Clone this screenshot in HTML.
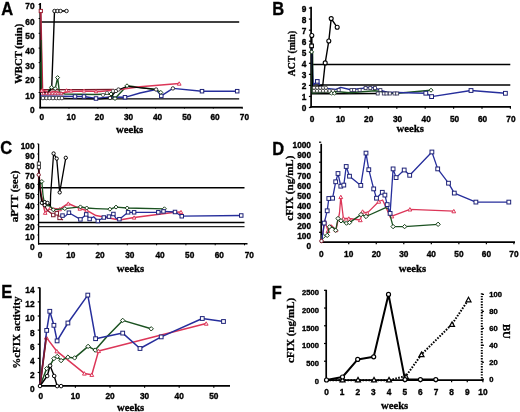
<!DOCTYPE html>
<html><head><meta charset="utf-8"><style>
html,body{margin:0;padding:0;background:#fff;}
body{width:520px;height:412px;overflow:hidden;}
svg{display:block;will-change:transform;}
.t{font-family:"Liberation Sans", sans-serif;font-weight:bold;fill:#000;stroke:#000;stroke-width:0.35px;}
.L{font-family:"Liberation Sans", sans-serif;font-weight:bold;fill:#000;stroke:#000;stroke-width:0.3px;}
.s{font-family:"Liberation Serif", serif;font-weight:bold;fill:#000;stroke:#000;stroke-width:0.3px;}
</style></head><body>
<svg width="520" height="412" viewBox="0 0 520 412">
<text transform="translate(1.2,14.6) scale(1,1.08)" class="L" style="font-size:16.5px">A</text>
<line x1="40.20" y1="3.00" x2="40.20" y2="108.40" stroke="#000" stroke-width="1.7" />
<line x1="39.40" y1="107.60" x2="242.80" y2="107.60" stroke="#000" stroke-width="1.7" />
<text x="34.6" y="9.3" text-anchor="end" class="t" style="font-size:8.3px">70</text>
<text x="34.6" y="24.5" text-anchor="end" class="t" style="font-size:8.3px">60</text>
<text x="34.6" y="39.3" text-anchor="end" class="t" style="font-size:8.3px">50</text>
<text x="34.6" y="54.1" text-anchor="end" class="t" style="font-size:8.3px">40</text>
<text x="34.6" y="68.6" text-anchor="end" class="t" style="font-size:8.3px">30</text>
<text x="34.6" y="83.4" text-anchor="end" class="t" style="font-size:8.3px">20</text>
<text x="34.6" y="98.5" text-anchor="end" class="t" style="font-size:8.3px">10</text>
<text x="34.6" y="113.1" text-anchor="end" class="t" style="font-size:8.3px">0</text>
<line x1="40.20" y1="4.50" x2="38.60" y2="4.50" stroke="#000" stroke-width="1.0" />
<line x1="40.20" y1="18.50" x2="38.60" y2="18.50" stroke="#000" stroke-width="1.0" />
<line x1="40.20" y1="33.30" x2="38.60" y2="33.30" stroke="#000" stroke-width="1.0" />
<line x1="40.20" y1="48.10" x2="38.60" y2="48.10" stroke="#000" stroke-width="1.0" />
<line x1="40.20" y1="62.60" x2="38.60" y2="62.60" stroke="#000" stroke-width="1.0" />
<line x1="40.20" y1="77.40" x2="38.60" y2="77.40" stroke="#000" stroke-width="1.0" />
<line x1="40.20" y1="92.50" x2="38.60" y2="92.50" stroke="#000" stroke-width="1.0" />
<text x="41.9" y="120.3" text-anchor="middle" class="t" style="font-size:8.3px">0</text>
<text x="71.2" y="120.3" text-anchor="middle" class="t" style="font-size:8.3px">10</text>
<text x="99.4" y="120.3" text-anchor="middle" class="t" style="font-size:8.3px">20</text>
<text x="128.5" y="120.3" text-anchor="middle" class="t" style="font-size:8.3px">30</text>
<text x="157.5" y="120.3" text-anchor="middle" class="t" style="font-size:8.3px">40</text>
<text x="186.8" y="120.3" text-anchor="middle" class="t" style="font-size:8.3px">50</text>
<text x="215.1" y="120.3" text-anchor="middle" class="t" style="font-size:8.3px">60</text>
<text x="244.4" y="120.3" text-anchor="middle" class="t" style="font-size:8.3px">70</text>
<line x1="68.97" y1="107.60" x2="68.97" y2="108.60" stroke="#000" stroke-width="1.0" />
<line x1="97.84" y1="107.60" x2="97.84" y2="108.60" stroke="#000" stroke-width="1.0" />
<line x1="126.71" y1="107.60" x2="126.71" y2="108.60" stroke="#000" stroke-width="1.0" />
<line x1="155.58" y1="107.60" x2="155.58" y2="108.60" stroke="#000" stroke-width="1.0" />
<line x1="184.45" y1="107.60" x2="184.45" y2="108.60" stroke="#000" stroke-width="1.0" />
<line x1="213.32" y1="107.60" x2="213.32" y2="108.60" stroke="#000" stroke-width="1.0" />
<line x1="242.19" y1="107.60" x2="242.19" y2="108.60" stroke="#000" stroke-width="1.0" />
<text x="129.6" y="133.0" text-anchor="middle" class="s" style="font-size:10.7px">weeks</text>
<text transform="translate(21.9,53.8) rotate(-90)" text-anchor="middle" class="s" style="font-size:10.7px">WBCT (min)</text>
<line x1="40.20" y1="22.00" x2="239.20" y2="22.00" stroke="#000" stroke-width="1.6" />
<line x1="40.20" y1="98.90" x2="239.20" y2="98.90" stroke="#000" stroke-width="1.35" />
<text transform="translate(272.2,14.7) scale(1,1.08)" class="L" style="font-size:16.5px">B</text>
<line x1="311.10" y1="6.80" x2="311.10" y2="107.60" stroke="#000" stroke-width="1.7" />
<line x1="310.30" y1="106.80" x2="511.00" y2="106.80" stroke="#000" stroke-width="1.7" />
<text x="306.3" y="111.0" text-anchor="end" class="t" style="font-size:8.3px">0</text>
<text x="306.3" y="100.0" text-anchor="end" class="t" style="font-size:8.3px">1</text>
<text x="306.3" y="88.9" text-anchor="end" class="t" style="font-size:8.3px">2</text>
<text x="306.3" y="77.9" text-anchor="end" class="t" style="font-size:8.3px">3</text>
<text x="306.3" y="66.8" text-anchor="end" class="t" style="font-size:8.3px">4</text>
<text x="306.3" y="55.8" text-anchor="end" class="t" style="font-size:8.3px">5</text>
<text x="306.3" y="44.7" text-anchor="end" class="t" style="font-size:8.3px">6</text>
<text x="306.3" y="33.7" text-anchor="end" class="t" style="font-size:8.3px">7</text>
<text x="306.3" y="22.6" text-anchor="end" class="t" style="font-size:8.3px">8</text>
<text x="306.3" y="11.6" text-anchor="end" class="t" style="font-size:8.3px">9</text>
<line x1="311.10" y1="107.50" x2="308.90" y2="107.50" stroke="#000" stroke-width="1.2" />
<line x1="311.10" y1="96.45" x2="308.90" y2="96.45" stroke="#000" stroke-width="1.2" />
<line x1="311.10" y1="85.40" x2="308.90" y2="85.40" stroke="#000" stroke-width="1.2" />
<line x1="311.10" y1="74.35" x2="308.90" y2="74.35" stroke="#000" stroke-width="1.2" />
<line x1="311.10" y1="63.30" x2="308.90" y2="63.30" stroke="#000" stroke-width="1.2" />
<line x1="311.10" y1="52.25" x2="308.90" y2="52.25" stroke="#000" stroke-width="1.2" />
<line x1="311.10" y1="41.20" x2="308.90" y2="41.20" stroke="#000" stroke-width="1.2" />
<line x1="311.10" y1="30.15" x2="308.90" y2="30.15" stroke="#000" stroke-width="1.2" />
<line x1="311.10" y1="19.10" x2="308.90" y2="19.10" stroke="#000" stroke-width="1.2" />
<line x1="311.10" y1="8.05" x2="308.90" y2="8.05" stroke="#000" stroke-width="1.2" />
<text x="312.1" y="121.9" text-anchor="middle" class="t" style="font-size:8.3px">0</text>
<text x="340.5" y="121.9" text-anchor="middle" class="t" style="font-size:8.3px">10</text>
<text x="368.7" y="121.9" text-anchor="middle" class="t" style="font-size:8.3px">20</text>
<text x="397.6" y="121.9" text-anchor="middle" class="t" style="font-size:8.3px">30</text>
<text x="426.2" y="121.9" text-anchor="middle" class="t" style="font-size:8.3px">40</text>
<text x="454.5" y="121.9" text-anchor="middle" class="t" style="font-size:8.3px">50</text>
<text x="482.6" y="121.9" text-anchor="middle" class="t" style="font-size:8.3px">60</text>
<text x="510.9" y="121.9" text-anchor="middle" class="t" style="font-size:8.3px">70</text>
<line x1="340.00" y1="106.80" x2="340.00" y2="108.80" stroke="#000" stroke-width="1.2" />
<line x1="368.40" y1="106.80" x2="368.40" y2="108.80" stroke="#000" stroke-width="1.2" />
<line x1="396.80" y1="106.80" x2="396.80" y2="108.80" stroke="#000" stroke-width="1.2" />
<line x1="425.20" y1="106.80" x2="425.20" y2="108.80" stroke="#000" stroke-width="1.2" />
<line x1="453.60" y1="106.80" x2="453.60" y2="108.80" stroke="#000" stroke-width="1.2" />
<line x1="482.00" y1="106.80" x2="482.00" y2="108.80" stroke="#000" stroke-width="1.2" />
<line x1="510.40" y1="106.80" x2="510.40" y2="108.80" stroke="#000" stroke-width="1.2" />
<text x="410.2" y="132.3" text-anchor="middle" class="s" style="font-size:10.7px">weeks</text>
<text transform="translate(294.9,53.5) rotate(-90)" text-anchor="middle" class="s" style="font-size:9.7px">ACT (min)</text>
<line x1="311.10" y1="64.50" x2="510.30" y2="64.50" stroke="#000" stroke-width="1.35" />
<line x1="311.10" y1="85.00" x2="510.30" y2="85.00" stroke="#000" stroke-width="1.45" />
<text transform="translate(0.2,154.2) scale(1,1.08)" class="L" style="font-size:16.5px">C</text>
<line x1="38.60" y1="143.80" x2="38.60" y2="244.60" stroke="#000" stroke-width="1.3" />
<line x1="38.00" y1="243.80" x2="247.50" y2="243.80" stroke="#000" stroke-width="1.5" />
<text x="34.5" y="249.8" text-anchor="end" class="t" style="font-size:8.3px">0</text>
<text x="34.5" y="239.7" text-anchor="end" class="t" style="font-size:8.3px">10</text>
<text x="34.5" y="229.6" text-anchor="end" class="t" style="font-size:8.3px">20</text>
<text x="34.5" y="219.5" text-anchor="end" class="t" style="font-size:8.3px">30</text>
<text x="34.5" y="209.4" text-anchor="end" class="t" style="font-size:8.3px">40</text>
<text x="34.5" y="199.2" text-anchor="end" class="t" style="font-size:8.3px">50</text>
<text x="34.5" y="189.1" text-anchor="end" class="t" style="font-size:8.3px">60</text>
<text x="34.5" y="179.0" text-anchor="end" class="t" style="font-size:8.3px">70</text>
<text x="34.5" y="168.9" text-anchor="end" class="t" style="font-size:8.3px">80</text>
<text x="34.5" y="158.8" text-anchor="end" class="t" style="font-size:8.3px">90</text>
<text x="34.5" y="148.6" text-anchor="end" class="t" style="font-size:8.3px">100</text>
<line x1="38.60" y1="234.98" x2="37.30" y2="234.98" stroke="#000" stroke-width="0.9" />
<line x1="38.60" y1="224.86" x2="37.30" y2="224.86" stroke="#000" stroke-width="0.9" />
<line x1="38.60" y1="214.74" x2="37.30" y2="214.74" stroke="#000" stroke-width="0.9" />
<line x1="38.60" y1="204.62" x2="37.30" y2="204.62" stroke="#000" stroke-width="0.9" />
<line x1="38.60" y1="194.50" x2="37.30" y2="194.50" stroke="#000" stroke-width="0.9" />
<line x1="38.60" y1="184.38" x2="37.30" y2="184.38" stroke="#000" stroke-width="0.9" />
<line x1="38.60" y1="174.26" x2="37.30" y2="174.26" stroke="#000" stroke-width="0.9" />
<line x1="38.60" y1="164.14" x2="37.30" y2="164.14" stroke="#000" stroke-width="0.9" />
<line x1="38.60" y1="154.02" x2="37.30" y2="154.02" stroke="#000" stroke-width="0.9" />
<line x1="38.60" y1="143.90" x2="37.30" y2="143.90" stroke="#000" stroke-width="0.9" />
<text x="40.0" y="257.8" text-anchor="middle" class="t" style="font-size:8.3px">0</text>
<text x="70.8" y="257.8" text-anchor="middle" class="t" style="font-size:8.3px">10</text>
<text x="100.0" y="257.8" text-anchor="middle" class="t" style="font-size:8.3px">20</text>
<text x="129.8" y="257.8" text-anchor="middle" class="t" style="font-size:8.3px">30</text>
<text x="160.0" y="257.8" text-anchor="middle" class="t" style="font-size:8.3px">40</text>
<text x="189.7" y="257.8" text-anchor="middle" class="t" style="font-size:8.3px">50</text>
<text x="219.3" y="257.8" text-anchor="middle" class="t" style="font-size:8.3px">60</text>
<text x="249.3" y="257.8" text-anchor="middle" class="t" style="font-size:8.3px">70</text>
<line x1="68.70" y1="243.80" x2="68.70" y2="245.30" stroke="#000" stroke-width="1.0" />
<line x1="98.00" y1="243.80" x2="98.00" y2="245.30" stroke="#000" stroke-width="1.0" />
<line x1="127.30" y1="243.80" x2="127.30" y2="245.30" stroke="#000" stroke-width="1.0" />
<line x1="156.60" y1="243.80" x2="156.60" y2="245.30" stroke="#000" stroke-width="1.0" />
<line x1="185.90" y1="243.80" x2="185.90" y2="245.30" stroke="#000" stroke-width="1.0" />
<line x1="215.20" y1="243.80" x2="215.20" y2="245.30" stroke="#000" stroke-width="1.0" />
<line x1="244.50" y1="243.80" x2="244.50" y2="245.30" stroke="#000" stroke-width="1.0" />
<text x="130.4" y="272.2" text-anchor="middle" class="s" style="font-size:10.7px">weeks</text>
<text transform="translate(18.0,196.4) rotate(-90)" text-anchor="middle" class="s" style="font-size:11.2px">aPTT (sec)</text>
<line x1="38.60" y1="187.70" x2="244.50" y2="187.70" stroke="#000" stroke-width="1.4" />
<line x1="38.60" y1="222.50" x2="244.50" y2="222.50" stroke="#000" stroke-width="1.3" />
<line x1="38.60" y1="226.60" x2="244.50" y2="226.60" stroke="#222" stroke-width="1.2" />
<text transform="translate(272.2,154.6) scale(1,1.08)" class="L" style="font-size:16.5px">D</text>
<line x1="321.20" y1="143.80" x2="321.20" y2="243.00" stroke="#000" stroke-width="1.7" />
<line x1="320.40" y1="242.20" x2="515.00" y2="242.20" stroke="#000" stroke-width="1.7" />
<text x="311.0" y="248.5" text-anchor="end" class="t" style="font-size:8.3px">0</text>
<text x="311.0" y="238.5" text-anchor="end" class="t" style="font-size:8.3px">100</text>
<text x="311.0" y="228.5" text-anchor="end" class="t" style="font-size:8.3px">200</text>
<text x="311.0" y="218.5" text-anchor="end" class="t" style="font-size:8.3px">300</text>
<text x="311.0" y="208.5" text-anchor="end" class="t" style="font-size:8.3px">400</text>
<text x="311.0" y="198.5" text-anchor="end" class="t" style="font-size:8.3px">500</text>
<text x="311.0" y="188.5" text-anchor="end" class="t" style="font-size:8.3px">600</text>
<text x="311.0" y="178.5" text-anchor="end" class="t" style="font-size:8.3px">700</text>
<text x="311.0" y="168.5" text-anchor="end" class="t" style="font-size:8.3px">800</text>
<text x="311.0" y="158.4" text-anchor="end" class="t" style="font-size:8.3px">900</text>
<text x="311.0" y="148.4" text-anchor="end" class="t" style="font-size:8.3px">1000</text>
<line x1="321.20" y1="232.29" x2="319.00" y2="232.29" stroke="#000" stroke-width="1.2" />
<line x1="321.20" y1="222.28" x2="319.00" y2="222.28" stroke="#000" stroke-width="1.2" />
<line x1="321.20" y1="212.27" x2="319.00" y2="212.27" stroke="#000" stroke-width="1.2" />
<line x1="321.20" y1="202.26" x2="319.00" y2="202.26" stroke="#000" stroke-width="1.2" />
<line x1="321.20" y1="192.25" x2="319.00" y2="192.25" stroke="#000" stroke-width="1.2" />
<line x1="321.20" y1="182.24" x2="319.00" y2="182.24" stroke="#000" stroke-width="1.2" />
<line x1="321.20" y1="172.23" x2="319.00" y2="172.23" stroke="#000" stroke-width="1.2" />
<line x1="321.20" y1="162.22" x2="319.00" y2="162.22" stroke="#000" stroke-width="1.2" />
<line x1="321.20" y1="152.21" x2="319.00" y2="152.21" stroke="#000" stroke-width="1.2" />
<line x1="321.20" y1="142.20" x2="319.00" y2="142.20" stroke="#000" stroke-width="1.2" />
<text x="321.2" y="256.9" text-anchor="middle" class="t" style="font-size:8.3px">0</text>
<text x="348.7" y="256.9" text-anchor="middle" class="t" style="font-size:8.3px">10</text>
<text x="376.3" y="256.9" text-anchor="middle" class="t" style="font-size:8.3px">20</text>
<text x="403.8" y="256.9" text-anchor="middle" class="t" style="font-size:8.3px">30</text>
<text x="431.3" y="256.9" text-anchor="middle" class="t" style="font-size:8.3px">40</text>
<text x="458.9" y="256.9" text-anchor="middle" class="t" style="font-size:8.3px">50</text>
<text x="486.4" y="256.9" text-anchor="middle" class="t" style="font-size:8.3px">60</text>
<text x="513.9" y="256.9" text-anchor="middle" class="t" style="font-size:8.3px">70</text>
<line x1="348.73" y1="242.20" x2="348.73" y2="244.20" stroke="#000" stroke-width="1.2" />
<line x1="376.26" y1="242.20" x2="376.26" y2="244.20" stroke="#000" stroke-width="1.2" />
<line x1="403.79" y1="242.20" x2="403.79" y2="244.20" stroke="#000" stroke-width="1.2" />
<line x1="431.32" y1="242.20" x2="431.32" y2="244.20" stroke="#000" stroke-width="1.2" />
<line x1="458.85" y1="242.20" x2="458.85" y2="244.20" stroke="#000" stroke-width="1.2" />
<line x1="486.38" y1="242.20" x2="486.38" y2="244.20" stroke="#000" stroke-width="1.2" />
<line x1="513.91" y1="242.20" x2="513.91" y2="244.20" stroke="#000" stroke-width="1.2" />
<text x="412.4" y="272.4" text-anchor="middle" class="s" style="font-size:10.7px">weeks</text>
<text transform="translate(292.9,188.2) rotate(-90)" text-anchor="middle" class="s" style="font-size:11px">cFIX (ng/mL)</text>
<text transform="translate(1.2,298.3) scale(1,1.08)" class="L" style="font-size:16.5px">E</text>
<line x1="39.90" y1="287.60" x2="39.90" y2="386.60" stroke="#000" stroke-width="1.7" />
<line x1="39.10" y1="385.80" x2="230.00" y2="385.80" stroke="#000" stroke-width="1.7" />
<text x="34.5" y="391.9" text-anchor="end" class="t" style="font-size:8.3px">0</text>
<text x="34.5" y="377.8" text-anchor="end" class="t" style="font-size:8.3px">2</text>
<text x="34.5" y="363.7" text-anchor="end" class="t" style="font-size:8.3px">4</text>
<text x="34.5" y="349.6" text-anchor="end" class="t" style="font-size:8.3px">6</text>
<text x="34.5" y="335.5" text-anchor="end" class="t" style="font-size:8.3px">8</text>
<text x="34.5" y="321.3" text-anchor="end" class="t" style="font-size:8.3px">10</text>
<text x="34.5" y="307.2" text-anchor="end" class="t" style="font-size:8.3px">12</text>
<text x="34.5" y="293.1" text-anchor="end" class="t" style="font-size:8.3px">14</text>
<line x1="39.90" y1="372.48" x2="37.70" y2="372.48" stroke="#000" stroke-width="1.2" />
<line x1="39.90" y1="358.36" x2="37.70" y2="358.36" stroke="#000" stroke-width="1.2" />
<line x1="39.90" y1="344.24" x2="37.70" y2="344.24" stroke="#000" stroke-width="1.2" />
<line x1="39.90" y1="330.12" x2="37.70" y2="330.12" stroke="#000" stroke-width="1.2" />
<line x1="39.90" y1="316.00" x2="37.70" y2="316.00" stroke="#000" stroke-width="1.2" />
<line x1="39.90" y1="301.88" x2="37.70" y2="301.88" stroke="#000" stroke-width="1.2" />
<line x1="39.90" y1="287.76" x2="37.70" y2="287.76" stroke="#000" stroke-width="1.2" />
<text x="40.8" y="398.7" text-anchor="middle" class="t" style="font-size:8.3px">0</text>
<text x="75.4" y="398.7" text-anchor="middle" class="t" style="font-size:8.3px">10</text>
<text x="110.0" y="398.7" text-anchor="middle" class="t" style="font-size:8.3px">20</text>
<text x="144.6" y="398.7" text-anchor="middle" class="t" style="font-size:8.3px">30</text>
<text x="179.2" y="398.7" text-anchor="middle" class="t" style="font-size:8.3px">40</text>
<text x="213.8" y="398.7" text-anchor="middle" class="t" style="font-size:8.3px">50</text>
<line x1="75.40" y1="385.80" x2="75.40" y2="387.80" stroke="#000" stroke-width="1.2" />
<line x1="110.00" y1="385.80" x2="110.00" y2="387.80" stroke="#000" stroke-width="1.2" />
<line x1="144.60" y1="385.80" x2="144.60" y2="387.80" stroke="#000" stroke-width="1.2" />
<line x1="179.20" y1="385.80" x2="179.20" y2="387.80" stroke="#000" stroke-width="1.2" />
<line x1="213.80" y1="385.80" x2="213.80" y2="387.80" stroke="#000" stroke-width="1.2" />
<text x="130.6" y="410.8" text-anchor="middle" class="s" style="font-size:10.7px">weeks</text>
<text transform="translate(20.2,332.6) rotate(-90)" text-anchor="middle" class="s" style="font-size:11px">%cFIX activity</text>
<text transform="translate(271.8,298.8) scale(1,1.08)" class="L" style="font-size:16.5px">F</text>
<line x1="326.20" y1="289.80" x2="326.20" y2="381.00" stroke="#000" stroke-width="1.7" />
<line x1="325.40" y1="380.20" x2="483.40" y2="380.20" stroke="#000" stroke-width="1.7" />
<text x="319.0" y="383.8" text-anchor="end" class="t" style="font-size:7.6px">0</text>
<text x="319.0" y="366.0" text-anchor="end" class="t" style="font-size:7.6px">500</text>
<text x="319.0" y="348.3" text-anchor="end" class="t" style="font-size:7.6px">1000</text>
<text x="319.0" y="330.6" text-anchor="end" class="t" style="font-size:7.6px">1500</text>
<text x="319.0" y="312.9" text-anchor="end" class="t" style="font-size:7.6px">2000</text>
<text x="319.0" y="295.1" text-anchor="end" class="t" style="font-size:7.6px">2500</text>
<line x1="326.20" y1="361.22" x2="324.00" y2="361.22" stroke="#000" stroke-width="1.2" />
<line x1="326.20" y1="343.50" x2="324.00" y2="343.50" stroke="#000" stroke-width="1.2" />
<line x1="326.20" y1="325.77" x2="324.00" y2="325.77" stroke="#000" stroke-width="1.2" />
<line x1="326.20" y1="308.05" x2="324.00" y2="308.05" stroke="#000" stroke-width="1.2" />
<line x1="326.20" y1="290.32" x2="324.00" y2="290.32" stroke="#000" stroke-width="1.2" />
<text x="326.5" y="394.7" text-anchor="middle" class="t" style="font-size:8.3px">0</text>
<text x="342.1" y="394.7" text-anchor="middle" class="t" style="font-size:8.3px">1</text>
<text x="357.8" y="394.7" text-anchor="middle" class="t" style="font-size:8.3px">2</text>
<text x="373.4" y="394.7" text-anchor="middle" class="t" style="font-size:8.3px">3</text>
<text x="389.1" y="394.7" text-anchor="middle" class="t" style="font-size:8.3px">4</text>
<text x="404.7" y="394.7" text-anchor="middle" class="t" style="font-size:8.3px">5</text>
<text x="420.3" y="394.7" text-anchor="middle" class="t" style="font-size:8.3px">6</text>
<text x="436.0" y="394.7" text-anchor="middle" class="t" style="font-size:8.3px">7</text>
<text x="451.6" y="394.7" text-anchor="middle" class="t" style="font-size:8.3px">8</text>
<text x="467.3" y="394.7" text-anchor="middle" class="t" style="font-size:8.3px">9</text>
<text x="482.9" y="394.7" text-anchor="middle" class="t" style="font-size:8.3px">10</text>
<line x1="342.14" y1="380.20" x2="342.14" y2="382.20" stroke="#000" stroke-width="1.2" />
<line x1="357.78" y1="380.20" x2="357.78" y2="382.20" stroke="#000" stroke-width="1.2" />
<line x1="373.42" y1="380.20" x2="373.42" y2="382.20" stroke="#000" stroke-width="1.2" />
<line x1="389.06" y1="380.20" x2="389.06" y2="382.20" stroke="#000" stroke-width="1.2" />
<line x1="404.70" y1="380.20" x2="404.70" y2="382.20" stroke="#000" stroke-width="1.2" />
<line x1="420.34" y1="380.20" x2="420.34" y2="382.20" stroke="#000" stroke-width="1.2" />
<line x1="435.98" y1="380.20" x2="435.98" y2="382.20" stroke="#000" stroke-width="1.2" />
<line x1="451.62" y1="380.20" x2="451.62" y2="382.20" stroke="#000" stroke-width="1.2" />
<line x1="467.26" y1="380.20" x2="467.26" y2="382.20" stroke="#000" stroke-width="1.2" />
<line x1="482.90" y1="380.20" x2="482.90" y2="382.20" stroke="#000" stroke-width="1.2" />
<text x="394.6" y="409.3" text-anchor="middle" class="s" style="font-size:10.7px">weeks</text>
<text transform="translate(294.3,330.4) rotate(-90)" text-anchor="middle" class="s" style="font-size:11px">cFIX (ng/mL)</text>
<line x1="481.80" y1="293.20" x2="481.80" y2="380.00" stroke="#000" stroke-width="2.0" stroke-dasharray="1.4 1.3"/>
<text x="489.3" y="381.7" class="t" style="font-size:7.6px">0</text>
<line x1="481.80" y1="379.20" x2="484.00" y2="379.20" stroke="#000" stroke-width="1.2" />
<text x="489.3" y="364.7" class="t" style="font-size:7.6px">20</text>
<line x1="481.80" y1="362.24" x2="484.00" y2="362.24" stroke="#000" stroke-width="1.2" />
<text x="489.3" y="347.8" class="t" style="font-size:7.6px">40</text>
<line x1="481.80" y1="345.28" x2="484.00" y2="345.28" stroke="#000" stroke-width="1.2" />
<text x="489.3" y="330.8" class="t" style="font-size:7.6px">60</text>
<line x1="481.80" y1="328.32" x2="484.00" y2="328.32" stroke="#000" stroke-width="1.2" />
<text x="489.3" y="313.9" class="t" style="font-size:7.6px">80</text>
<line x1="481.80" y1="311.36" x2="484.00" y2="311.36" stroke="#000" stroke-width="1.2" />
<text x="489.3" y="296.9" class="t" style="font-size:7.6px">100</text>
<line x1="481.80" y1="294.40" x2="484.00" y2="294.40" stroke="#000" stroke-width="1.2" />
<text transform="translate(503.1,331.4) rotate(90)" text-anchor="middle" class="s" style="font-size:10.7px">BU</text>
<polyline points="40.5,89.7 80.0,89.6 114.0,89.5" fill="none" stroke="#7a1a2a" stroke-width="1.4" stroke-linejoin="round" />
<polyline points="40.5,96.0 62.0,96.2 75.0,96.5 84.0,96.5 96.0,98.5 110.0,97.0 125.0,97.3 140.0,93.0 156.0,89.5 161.3,95.9 172.9,88.4 202.0,91.2 237.2,91.2" fill="none" stroke="#262e9c" stroke-width="1.4" stroke-linejoin="round" />
<polyline points="41.0,62.0 41.5,90.0 47.0,93.0 51.5,87.3 55.2,88.6 57.6,77.6 59.4,92.0 65.0,94.0 80.0,94.2 95.0,94.5 111.0,94.0 115.0,98.5 127.0,85.8 156.0,89.5 160.8,92.4" fill="none" stroke="#1b5221" stroke-width="1.4" stroke-linejoin="round" />
<polyline points="40.8,11.0 42.6,90.0 48.0,92.5 55.0,91.5 62.0,93.0 70.0,91.5 84.0,91.0 100.0,91.4 116.0,90.0 140.0,86.7 179.2,83.5" fill="none" stroke="#dc3658" stroke-width="1.5" stroke-linejoin="round" />
<line x1="40.90" y1="12.00" x2="42.20" y2="88.00" stroke="#7a1a2a" stroke-width="0.8" />
<line x1="41.30" y1="40.00" x2="41.50" y2="90.00" stroke="#1b5221" stroke-width="1.0" />
<polyline points="40.5,98.0 62.0,98.0 70.0,98.5 100.0,99.0 110.0,98.0 116.0,91.0 127.0,86.3 156.1,89.5" fill="none" stroke="#000" stroke-width="1.2" stroke-linejoin="round" />
<polyline points="40.5,92.0 48.0,93.0 51.7,88.0 54.5,11.0 57.5,11.0 60.5,11.0 66.5,11.0" fill="none" stroke="#000" stroke-width="1.4" stroke-linejoin="round" />
<circle cx="54.5" cy="11.0" r="1.75" fill="#fff" stroke="#000" stroke-width="0.9"/>
<circle cx="57.5" cy="11.0" r="1.75" fill="#fff" stroke="#000" stroke-width="0.9"/>
<circle cx="60.5" cy="11.0" r="1.75" fill="#fff" stroke="#000" stroke-width="0.9"/>
<circle cx="66.5" cy="11.0" r="1.75" fill="#fff" stroke="#000" stroke-width="0.9"/>
<rect x="39.20" y="9.40" width="3.20" height="3.20" fill="#fff" stroke="#9a2030" stroke-width="1.0"/>
<polygon points="43.4,91.7 45.1,94.7 41.7,94.7" fill="#fff" stroke="#c03050" stroke-width="0.9"/>
<polygon points="46.6,91.7 48.3,94.7 44.9,94.7" fill="#fff" stroke="#c03050" stroke-width="0.9"/>
<polygon points="49.3,91.7 51.0,94.7 47.6,94.7" fill="#fff" stroke="#c03050" stroke-width="0.9"/>
<polygon points="52.3,91.7 54.0,94.7 50.6,94.7" fill="#fff" stroke="#c03050" stroke-width="0.9"/>
<polygon points="55.2,91.7 56.9,94.7 53.5,94.7" fill="#fff" stroke="#c03050" stroke-width="0.9"/>
<polygon points="57.9,91.7 59.6,94.7 56.2,94.7" fill="#fff" stroke="#c03050" stroke-width="0.9"/>
<polygon points="61.2,91.7 62.9,94.7 59.5,94.7" fill="#fff" stroke="#c03050" stroke-width="0.9"/>
<polygon points="41.8,88.9 43.5,91.9 40.1,91.9" fill="#fff" stroke="#dc3658" stroke-width="0.9"/>
<polygon points="66.5,88.7 68.2,91.7 64.8,91.7" fill="#fff" stroke="#dc3658" stroke-width="0.9"/>
<polygon points="71.0,89.1 72.7,92.1 69.3,92.1" fill="#fff" stroke="#dc3658" stroke-width="0.9"/>
<polygon points="84.0,89.1 85.7,92.1 82.3,92.1" fill="#fff" stroke="#dc3658" stroke-width="0.9"/>
<polygon points="96.0,89.8 97.7,92.8 94.3,92.8" fill="#fff" stroke="#dc3658" stroke-width="0.9"/>
<circle cx="42.9" cy="98.1" r="1.75" fill="#fff" stroke="#333" stroke-width="0.8"/>
<circle cx="46.4" cy="98.1" r="1.75" fill="#fff" stroke="#333" stroke-width="0.8"/>
<circle cx="49.5" cy="98.1" r="1.75" fill="#fff" stroke="#333" stroke-width="0.8"/>
<circle cx="52.9" cy="98.1" r="1.75" fill="#fff" stroke="#333" stroke-width="0.8"/>
<circle cx="56.4" cy="98.1" r="1.75" fill="#fff" stroke="#333" stroke-width="0.8"/>
<circle cx="59.1" cy="98.1" r="1.75" fill="#fff" stroke="#333" stroke-width="0.8"/>
<circle cx="61.9" cy="98.1" r="1.75" fill="#fff" stroke="#333" stroke-width="0.8"/>
<rect x="73.25" y="94.75" width="3.50" height="3.50" fill="#fff" stroke="#1e2278" stroke-width="1.0"/>
<rect x="82.25" y="94.75" width="3.50" height="3.50" fill="#fff" stroke="#1e2278" stroke-width="1.0"/>
<rect x="94.25" y="96.75" width="3.50" height="3.50" fill="#fff" stroke="#1e2278" stroke-width="1.0"/>
<rect x="123.25" y="95.55" width="3.50" height="3.50" fill="#fff" stroke="#1e2278" stroke-width="1.0"/>
<rect x="159.55" y="94.15" width="3.50" height="3.50" fill="#fff" stroke="#1e2278" stroke-width="1.0"/>
<rect x="200.25" y="89.45" width="3.50" height="3.50" fill="#fff" stroke="#1e2278" stroke-width="1.0"/>
<rect x="235.45" y="89.45" width="3.50" height="3.50" fill="#fff" stroke="#1e2278" stroke-width="1.0"/>
<polygon points="51.5,85.3 53.5,87.3 51.5,89.3 49.5,87.3" fill="#fff" stroke="#143c16" stroke-width="1.0"/>
<polygon points="55.2,86.6 57.2,88.6 55.2,90.6 53.2,88.6" fill="#fff" stroke="#143c16" stroke-width="1.0"/>
<polygon points="57.6,75.6 59.6,77.6 57.6,79.6 55.6,77.6" fill="#fff" stroke="#143c16" stroke-width="1.0"/>
<polygon points="111.0,92.0 113.0,94.0 111.0,96.0 109.0,94.0" fill="#fff" stroke="#143c16" stroke-width="1.0"/>
<polygon points="115.0,96.5 117.0,98.5 115.0,100.5 113.0,98.5" fill="#fff" stroke="#143c16" stroke-width="1.0"/>
<polygon points="127.0,83.8 129.0,85.8 127.0,87.8 125.0,85.8" fill="#fff" stroke="#143c16" stroke-width="1.0"/>
<polygon points="160.8,90.4 162.8,92.4 160.8,94.4 158.8,92.4" fill="#fff" stroke="#143c16" stroke-width="1.0"/>
<circle cx="110.0" cy="98.0" r="1.70" fill="#fff" stroke="#222" stroke-width="0.9"/>
<circle cx="116.0" cy="91.0" r="1.70" fill="#fff" stroke="#222" stroke-width="0.9"/>
<circle cx="118.5" cy="89.5" r="1.70" fill="#fff" stroke="#222" stroke-width="0.9"/>
<circle cx="156.1" cy="89.5" r="1.70" fill="#fff" stroke="#222" stroke-width="0.9"/>
<circle cx="172.9" cy="88.4" r="1.70" fill="#fff" stroke="#222" stroke-width="0.9"/>
<polygon points="179.2,81.8 181.1,85.2 177.3,85.2" fill="#fff" stroke="#dc3658" stroke-width="1.0"/>
<circle cx="103.0" cy="95.0" r="1.60" fill="#fff" stroke="#555" stroke-width="0.8"/>
<circle cx="107.0" cy="93.0" r="1.60" fill="#fff" stroke="#555" stroke-width="0.8"/>
<circle cx="113.0" cy="91.0" r="1.60" fill="#fff" stroke="#555" stroke-width="0.8"/>
<polyline points="312.0,93.8 340.0,93.8 378.0,93.6" fill="none" stroke="#000" stroke-width="1.5" stroke-linejoin="round" />
<polyline points="311.6,51.9 312.6,93.0 336.0,91.4 349.5,92.8 375.0,90.8 395.0,93.5 431.0,90.2" fill="none" stroke="#1b5221" stroke-width="1.5" stroke-linejoin="round" />
<line x1="312.20" y1="52.00" x2="312.60" y2="92.00" stroke="#1b5221" stroke-width="2.2" />
<polyline points="311.6,45.9 313.0,85.0 317.3,81.4 322.0,88.0 336.0,89.4 340.7,87.4 350.8,89.7 362.9,88.3 366.3,87.4 375.0,87.8 381.8,90.8 387.1,92.1 406.0,92.8 425.8,93.2 431.6,96.6 471.0,90.5 505.4,93.3" fill="none" stroke="#262e9c" stroke-width="1.4" stroke-linejoin="round" />
<polyline points="311.8,35.5 312.5,88.0 322.8,85.0 325.2,62.9 328.8,41.0 331.2,18.6 337.2,27.3" fill="none" stroke="#000" stroke-width="1.4" stroke-linejoin="round" />
<circle cx="311.8" cy="35.5" r="2.00" fill="#fff" stroke="#000" stroke-width="1.1"/>
<circle cx="325.2" cy="62.9" r="2.00" fill="#fff" stroke="#000" stroke-width="1.1"/>
<circle cx="328.8" cy="41.0" r="2.00" fill="#fff" stroke="#000" stroke-width="1.1"/>
<circle cx="331.2" cy="18.6" r="2.00" fill="#fff" stroke="#000" stroke-width="1.1"/>
<circle cx="337.2" cy="27.3" r="2.00" fill="#fff" stroke="#000" stroke-width="1.1"/>
<rect x="309.80" y="44.10" width="3.60" height="3.60" fill="#fff" stroke="#000" stroke-width="1.1"/>
<polygon points="311.6,49.9 313.6,51.9 311.6,53.9 309.6,51.9" fill="#fff" stroke="#143c16" stroke-width="1.0"/>
<rect x="315.50" y="79.60" width="3.60" height="3.60" fill="#fff" stroke="#1e2278" stroke-width="1.1"/>
<circle cx="314.0" cy="87.8" r="1.60" fill="#fff" stroke="#3a3a3a" stroke-width="0.8"/>
<circle cx="317.2" cy="87.8" r="1.60" fill="#fff" stroke="#3a3a3a" stroke-width="0.8"/>
<circle cx="320.3" cy="87.8" r="1.60" fill="#fff" stroke="#3a3a3a" stroke-width="0.8"/>
<circle cx="323.1" cy="87.8" r="1.60" fill="#fff" stroke="#3a3a3a" stroke-width="0.8"/>
<circle cx="325.9" cy="87.8" r="1.60" fill="#fff" stroke="#3a3a3a" stroke-width="0.8"/>
<circle cx="314.0" cy="90.9" r="1.60" fill="#fff" stroke="#3a3a3a" stroke-width="0.8"/>
<circle cx="317.0" cy="90.9" r="1.60" fill="#fff" stroke="#3a3a3a" stroke-width="0.8"/>
<circle cx="320.0" cy="90.9" r="1.60" fill="#fff" stroke="#3a3a3a" stroke-width="0.8"/>
<circle cx="323.0" cy="90.9" r="1.60" fill="#fff" stroke="#3a3a3a" stroke-width="0.8"/>
<circle cx="326.0" cy="90.9" r="1.60" fill="#fff" stroke="#3a3a3a" stroke-width="0.8"/>
<circle cx="329.5" cy="90.9" r="1.60" fill="#fff" stroke="#3a3a3a" stroke-width="0.8"/>
<circle cx="333.0" cy="90.9" r="1.60" fill="#fff" stroke="#3a3a3a" stroke-width="0.8"/>
<polygon points="331.4,91.4 333.3,93.3 331.4,95.2 329.5,93.3" fill="#fff" stroke="#143c16" stroke-width="0.8"/>
<polygon points="334.4,91.4 336.3,93.3 334.4,95.2 332.5,93.3" fill="#fff" stroke="#143c16" stroke-width="0.8"/>
<rect x="337.20" y="88.60" width="3.00" height="3.00" fill="#fff" stroke="#2a2a50" stroke-width="0.8"/>
<rect x="350.00" y="88.60" width="3.00" height="3.00" fill="#fff" stroke="#2a2a50" stroke-width="0.8"/>
<rect x="352.70" y="88.60" width="3.00" height="3.00" fill="#fff" stroke="#2a2a50" stroke-width="0.8"/>
<rect x="358.10" y="88.60" width="3.00" height="3.00" fill="#fff" stroke="#2a2a50" stroke-width="0.8"/>
<rect x="364.10" y="86.60" width="3.00" height="3.00" fill="#fff" stroke="#2a2a50" stroke-width="0.8"/>
<rect x="368.80" y="86.60" width="3.00" height="3.00" fill="#fff" stroke="#2a2a50" stroke-width="0.8"/>
<rect x="373.50" y="86.60" width="3.00" height="3.00" fill="#fff" stroke="#2a2a50" stroke-width="0.8"/>
<rect x="376.20" y="92.00" width="3.00" height="3.00" fill="#fff" stroke="#2a2a50" stroke-width="0.8"/>
<rect x="378.90" y="88.60" width="3.00" height="3.00" fill="#fff" stroke="#2a2a50" stroke-width="0.8"/>
<rect x="382.30" y="92.00" width="3.00" height="3.00" fill="#fff" stroke="#2a2a50" stroke-width="0.8"/>
<rect x="385.00" y="92.00" width="3.00" height="3.00" fill="#fff" stroke="#2a2a50" stroke-width="0.8"/>
<rect x="388.30" y="92.00" width="3.00" height="3.00" fill="#fff" stroke="#2a2a50" stroke-width="0.8"/>
<rect x="393.00" y="92.00" width="3.00" height="3.00" fill="#fff" stroke="#2a2a50" stroke-width="0.8"/>
<rect x="395.70" y="92.00" width="3.00" height="3.00" fill="#fff" stroke="#2a2a50" stroke-width="0.8"/>
<rect x="423.90" y="91.30" width="3.80" height="3.80" fill="#fff" stroke="#1e2278" stroke-width="1.0"/>
<rect x="429.70" y="94.70" width="3.80" height="3.80" fill="#fff" stroke="#1e2278" stroke-width="1.0"/>
<rect x="469.10" y="88.60" width="3.80" height="3.80" fill="#fff" stroke="#1e2278" stroke-width="1.0"/>
<rect x="503.50" y="91.40" width="3.80" height="3.80" fill="#fff" stroke="#1e2278" stroke-width="1.0"/>
<polygon points="431.0,88.2 433.0,90.2 431.0,92.2 429.0,90.2" fill="#fff" stroke="#143c16" stroke-width="1.0"/>
<polyline points="38.5,164.0 40.0,187.0 42.0,200.0 45.2,212.7 50.4,208.0 59.6,209.2 68.3,203.5 79.8,208.6 86.7,210.4 96.0,215.6 119.4,220.1 134.1,217.5 174.8,212.3 181.0,212.0" fill="none" stroke="#dc3658" stroke-width="1.5" stroke-linejoin="round" />
<polygon points="45.2,211.1 47.0,214.3 43.4,214.3" fill="#fff" stroke="#dc3658" stroke-width="1.0"/>
<polygon points="50.4,206.4 52.2,209.6 48.6,209.6" fill="#fff" stroke="#dc3658" stroke-width="1.0"/>
<polygon points="59.6,207.6 61.4,210.8 57.8,210.8" fill="#fff" stroke="#dc3658" stroke-width="1.0"/>
<polygon points="68.3,201.9 70.1,205.1 66.5,205.1" fill="#fff" stroke="#dc3658" stroke-width="1.0"/>
<polygon points="79.8,207.0 81.6,210.2 78.0,210.2" fill="#fff" stroke="#dc3658" stroke-width="1.0"/>
<polygon points="86.7,208.8 88.5,212.0 84.9,212.0" fill="#fff" stroke="#dc3658" stroke-width="1.0"/>
<polygon points="134.1,215.9 135.9,219.1 132.3,219.1" fill="#fff" stroke="#dc3658" stroke-width="1.0"/>
<polygon points="181.0,210.4 182.8,213.6 179.2,213.6" fill="#fff" stroke="#dc3658" stroke-width="1.0"/>
<polyline points="38.7,174.8 41.0,195.0 44.0,205.0 47.0,210.0 53.3,215.0 56.8,213.3 59.6,217.9 63.0,220.0" fill="none" stroke="#7a1a2a" stroke-width="1.3" stroke-linejoin="round" />
<rect x="51.56" y="213.26" width="3.48" height="3.48" fill="#fff" stroke="#7a1a2a" stroke-width="1.0"/>
<rect x="55.06" y="211.56" width="3.48" height="3.48" fill="#fff" stroke="#7a1a2a" stroke-width="1.0"/>
<rect x="57.86" y="216.16" width="3.48" height="3.48" fill="#fff" stroke="#7a1a2a" stroke-width="1.0"/>
<polyline points="39.6,184.5 41.8,181.5 43.0,195.0 44.7,205.2 50.0,206.0 53.3,209.8 64.8,208.6 80.4,206.9 86.7,208.0 96.0,208.6 109.9,209.2 116.0,207.1 127.2,208.0 164.4,208.8" fill="none" stroke="#1b5221" stroke-width="1.3" stroke-linejoin="round" />
<polygon points="41.8,179.5 43.8,181.5 41.8,183.5 39.8,181.5" fill="#fff" stroke="#143c16" stroke-width="1.0"/>
<polygon points="53.3,207.8 55.3,209.8 53.3,211.8 51.3,209.8" fill="#fff" stroke="#143c16" stroke-width="1.0"/>
<polygon points="64.8,206.6 66.8,208.6 64.8,210.6 62.8,208.6" fill="#fff" stroke="#143c16" stroke-width="1.0"/>
<polygon points="80.4,204.9 82.4,206.9 80.4,208.9 78.4,206.9" fill="#fff" stroke="#143c16" stroke-width="1.0"/>
<polygon points="86.7,206.0 88.7,208.0 86.7,210.0 84.7,208.0" fill="#fff" stroke="#143c16" stroke-width="1.0"/>
<polygon points="109.9,207.2 111.9,209.2 109.9,211.2 107.9,209.2" fill="#fff" stroke="#143c16" stroke-width="1.0"/>
<polygon points="116.0,205.1 118.0,207.1 116.0,209.1 114.0,207.1" fill="#fff" stroke="#143c16" stroke-width="1.0"/>
<polygon points="127.2,206.0 129.2,208.0 127.2,210.0 125.2,208.0" fill="#fff" stroke="#143c16" stroke-width="1.0"/>
<polygon points="164.4,206.8 166.4,208.8 164.4,210.8 162.4,208.8" fill="#fff" stroke="#143c16" stroke-width="1.0"/>
<polyline points="38.7,163.8 38.7,167.2 40.0,190.0 41.8,202.9 44.7,202.1 47.5,202.9 50.4,205.8 50.6,195.0 53.6,153.5 56.7,158.6 59.7,192.4 65.8,157.8" fill="none" stroke="#000" stroke-width="1.3" stroke-linejoin="round" />
<circle cx="41.8" cy="202.9" r="1.66" fill="#fff" stroke="#000" stroke-width="1.0"/>
<circle cx="44.7" cy="202.1" r="1.66" fill="#fff" stroke="#000" stroke-width="1.0"/>
<circle cx="47.5" cy="202.9" r="1.66" fill="#fff" stroke="#000" stroke-width="1.0"/>
<circle cx="44.7" cy="205.2" r="1.66" fill="#fff" stroke="#000" stroke-width="1.0"/>
<circle cx="53.6" cy="153.5" r="1.66" fill="#fff" stroke="#000" stroke-width="1.0"/>
<circle cx="56.7" cy="158.6" r="1.66" fill="#fff" stroke="#000" stroke-width="1.0"/>
<circle cx="59.7" cy="192.4" r="1.66" fill="#fff" stroke="#000" stroke-width="1.0"/>
<circle cx="65.8" cy="157.8" r="1.66" fill="#fff" stroke="#000" stroke-width="1.0"/>
<rect x="37.30" y="162.00" width="3.20" height="3.20" fill="#fff" stroke="#333" stroke-width="0.9"/>
<rect x="37.30" y="165.60" width="3.20" height="3.20" fill="#fff" stroke="#333" stroke-width="0.9"/>
<polyline points="62.5,215.6 65.4,216.1 68.9,212.7 80.4,219.4 86.2,214.4 89.6,219.0 93.7,216.7 97.8,221.0 103.8,217.5 109.0,216.6 113.4,214.0 116.0,218.4 119.4,219.2 128.1,212.3 134.1,212.3 158.3,212.3 163.5,211.4 175.0,212.0 181.8,216.2 241.2,215.5" fill="none" stroke="#262e9c" stroke-width="1.3" stroke-linejoin="round" />
<rect x="60.76" y="213.86" width="3.48" height="3.48" fill="#fff" stroke="#1e2278" stroke-width="1.0"/>
<rect x="67.16" y="210.96" width="3.48" height="3.48" fill="#fff" stroke="#1e2278" stroke-width="1.0"/>
<rect x="78.66" y="217.66" width="3.48" height="3.48" fill="#fff" stroke="#1e2278" stroke-width="1.0"/>
<rect x="84.46" y="212.66" width="3.48" height="3.48" fill="#fff" stroke="#1e2278" stroke-width="1.0"/>
<rect x="87.86" y="217.26" width="3.48" height="3.48" fill="#fff" stroke="#1e2278" stroke-width="1.0"/>
<rect x="96.06" y="219.26" width="3.48" height="3.48" fill="#fff" stroke="#1e2278" stroke-width="1.0"/>
<rect x="102.06" y="215.76" width="3.48" height="3.48" fill="#fff" stroke="#1e2278" stroke-width="1.0"/>
<rect x="107.26" y="214.86" width="3.48" height="3.48" fill="#fff" stroke="#1e2278" stroke-width="1.0"/>
<rect x="111.66" y="212.26" width="3.48" height="3.48" fill="#fff" stroke="#1e2278" stroke-width="1.0"/>
<rect x="117.66" y="217.46" width="3.48" height="3.48" fill="#fff" stroke="#1e2278" stroke-width="1.0"/>
<rect x="126.36" y="210.56" width="3.48" height="3.48" fill="#fff" stroke="#1e2278" stroke-width="1.0"/>
<rect x="132.36" y="210.56" width="3.48" height="3.48" fill="#fff" stroke="#1e2278" stroke-width="1.0"/>
<rect x="156.56" y="210.56" width="3.48" height="3.48" fill="#fff" stroke="#1e2278" stroke-width="1.0"/>
<rect x="161.76" y="209.66" width="3.48" height="3.48" fill="#fff" stroke="#1e2278" stroke-width="1.0"/>
<rect x="173.26" y="210.26" width="3.48" height="3.48" fill="#fff" stroke="#1e2278" stroke-width="1.0"/>
<rect x="180.01" y="214.51" width="3.48" height="3.48" fill="#fff" stroke="#1e2278" stroke-width="1.0"/>
<rect x="239.51" y="213.76" width="3.48" height="3.48" fill="#fff" stroke="#1e2278" stroke-width="1.0"/>
<circle cx="38.7" cy="174.8" r="1.66" fill="#fff" stroke="#7a1a2a" stroke-width="1.0"/>
<polyline points="321.5,241.0 324.9,221.5 328.0,230.8 331.0,225.0 336.0,230.0 339.5,213.0 340.8,196.9 343.4,218.5 348.8,218.5 360.3,220.0 362.6,211.5 367.2,213.1 378.8,201.5 382.6,200.0 390.3,216.9 391.9,216.2 409.9,209.3 453.8,211.1" fill="none" stroke="#dc3658" stroke-width="1.3" stroke-linejoin="round" />
<polygon points="324.9,219.8 326.8,223.2 323.0,223.2" fill="#fff" stroke="#dc3658" stroke-width="1.0"/>
<polygon points="328.0,229.1 329.9,232.5 326.1,232.5" fill="#fff" stroke="#dc3658" stroke-width="1.0"/>
<polygon points="336.0,228.3 337.9,231.7 334.1,231.7" fill="#fff" stroke="#dc3658" stroke-width="1.0"/>
<polygon points="340.8,195.2 342.7,198.6 338.9,198.6" fill="#fff" stroke="#dc3658" stroke-width="1.0"/>
<polygon points="343.4,216.8 345.3,220.2 341.5,220.2" fill="#fff" stroke="#dc3658" stroke-width="1.0"/>
<polygon points="348.8,216.8 350.7,220.2 346.9,220.2" fill="#fff" stroke="#dc3658" stroke-width="1.0"/>
<polygon points="360.3,218.3 362.2,221.7 358.4,221.7" fill="#fff" stroke="#dc3658" stroke-width="1.0"/>
<polygon points="362.6,209.8 364.5,213.2 360.7,213.2" fill="#fff" stroke="#dc3658" stroke-width="1.0"/>
<polygon points="367.2,211.4 369.1,214.8 365.3,214.8" fill="#fff" stroke="#dc3658" stroke-width="1.0"/>
<polygon points="378.8,199.8 380.7,203.2 376.9,203.2" fill="#fff" stroke="#dc3658" stroke-width="1.0"/>
<polygon points="391.9,214.5 393.8,217.9 390.0,217.9" fill="#fff" stroke="#dc3658" stroke-width="1.0"/>
<polygon points="409.9,207.6 411.8,211.0 408.0,211.0" fill="#fff" stroke="#dc3658" stroke-width="1.0"/>
<polygon points="453.8,209.4 455.7,212.8 451.9,212.8" fill="#fff" stroke="#dc3658" stroke-width="1.0"/>
<polyline points="321.5,241.0 323.4,236.2 327.2,235.4 329.5,226.9 333.4,227.7 335.7,230.3 338.0,218.5 341.0,220.8 346.5,223.1 349.5,222.6 361.0,214.6 366.0,216.5 385.7,207.7 388.5,209.3 393.1,226.6 404.6,226.6 438.1,224.3" fill="none" stroke="#1b5221" stroke-width="1.3" stroke-linejoin="round" />
<polygon points="323.4,234.0 325.6,236.2 323.4,238.4 321.2,236.2" fill="#fff" stroke="#143c16" stroke-width="1.0"/>
<polygon points="327.2,233.2 329.4,235.4 327.2,237.6 325.0,235.4" fill="#fff" stroke="#143c16" stroke-width="1.0"/>
<polygon points="329.5,224.7 331.7,226.9 329.5,229.1 327.3,226.9" fill="#fff" stroke="#143c16" stroke-width="1.0"/>
<polygon points="335.7,228.1 337.9,230.3 335.7,232.5 333.5,230.3" fill="#fff" stroke="#143c16" stroke-width="1.0"/>
<polygon points="338.0,216.3 340.2,218.5 338.0,220.7 335.8,218.5" fill="#fff" stroke="#143c16" stroke-width="1.0"/>
<polygon points="341.0,218.6 343.2,220.8 341.0,223.0 338.8,220.8" fill="#fff" stroke="#143c16" stroke-width="1.0"/>
<polygon points="346.5,220.9 348.7,223.1 346.5,225.3 344.3,223.1" fill="#fff" stroke="#143c16" stroke-width="1.0"/>
<polygon points="349.5,220.4 351.7,222.6 349.5,224.8 347.3,222.6" fill="#fff" stroke="#143c16" stroke-width="1.0"/>
<polygon points="361.0,212.4 363.2,214.6 361.0,216.8 358.8,214.6" fill="#fff" stroke="#143c16" stroke-width="1.0"/>
<polygon points="366.0,214.3 368.2,216.5 366.0,218.7 363.8,216.5" fill="#fff" stroke="#143c16" stroke-width="1.0"/>
<polygon points="393.1,224.4 395.3,226.6 393.1,228.8 390.9,226.6" fill="#fff" stroke="#143c16" stroke-width="1.0"/>
<polygon points="404.6,224.4 406.8,226.6 404.6,228.8 402.4,226.6" fill="#fff" stroke="#143c16" stroke-width="1.0"/>
<polygon points="438.1,222.1 440.3,224.3 438.1,226.5 435.9,224.3" fill="#fff" stroke="#143c16" stroke-width="1.0"/>
<polyline points="321.8,240.8 324.2,223.1 327.2,210.8 328.8,198.5 332.6,198.2 335.7,181.8 338.0,173.5 340.8,186.2 343.8,185.1 346.2,166.5 349.5,176.2 360.8,185.4 366.0,153.1 368.8,169.7 373.7,188.9 376.5,198.2 382.3,192.3 384.9,195.1 387.2,204.6 390.1,213.4 393.1,168.9 396.1,177.6 404.2,170.0 409.7,175.3 431.9,152.0 437.7,168.9 448.5,183.2 454.3,193.1 475.9,202.1 508.8,202.1" fill="none" stroke="#262e9c" stroke-width="1.3" stroke-linejoin="round" />
<rect x="322.31" y="221.21" width="3.77" height="3.77" fill="#fff" stroke="#1e2278" stroke-width="1.0"/>
<rect x="325.31" y="208.91" width="3.77" height="3.77" fill="#fff" stroke="#1e2278" stroke-width="1.0"/>
<rect x="326.91" y="196.61" width="3.77" height="3.77" fill="#fff" stroke="#1e2278" stroke-width="1.0"/>
<rect x="330.71" y="196.31" width="3.77" height="3.77" fill="#fff" stroke="#1e2278" stroke-width="1.0"/>
<rect x="333.81" y="179.91" width="3.77" height="3.77" fill="#fff" stroke="#1e2278" stroke-width="1.0"/>
<rect x="336.11" y="171.61" width="3.77" height="3.77" fill="#fff" stroke="#1e2278" stroke-width="1.0"/>
<rect x="338.91" y="184.31" width="3.77" height="3.77" fill="#fff" stroke="#1e2278" stroke-width="1.0"/>
<rect x="341.91" y="183.21" width="3.77" height="3.77" fill="#fff" stroke="#1e2278" stroke-width="1.0"/>
<rect x="344.31" y="164.61" width="3.77" height="3.77" fill="#fff" stroke="#1e2278" stroke-width="1.0"/>
<rect x="347.61" y="174.31" width="3.77" height="3.77" fill="#fff" stroke="#1e2278" stroke-width="1.0"/>
<rect x="358.91" y="183.51" width="3.77" height="3.77" fill="#fff" stroke="#1e2278" stroke-width="1.0"/>
<rect x="364.11" y="151.21" width="3.77" height="3.77" fill="#fff" stroke="#1e2278" stroke-width="1.0"/>
<rect x="366.91" y="167.81" width="3.77" height="3.77" fill="#fff" stroke="#1e2278" stroke-width="1.0"/>
<rect x="371.81" y="187.01" width="3.77" height="3.77" fill="#fff" stroke="#1e2278" stroke-width="1.0"/>
<rect x="374.61" y="196.31" width="3.77" height="3.77" fill="#fff" stroke="#1e2278" stroke-width="1.0"/>
<rect x="380.41" y="190.41" width="3.77" height="3.77" fill="#fff" stroke="#1e2278" stroke-width="1.0"/>
<rect x="383.01" y="193.21" width="3.77" height="3.77" fill="#fff" stroke="#1e2278" stroke-width="1.0"/>
<rect x="385.31" y="202.71" width="3.77" height="3.77" fill="#fff" stroke="#1e2278" stroke-width="1.0"/>
<rect x="388.21" y="211.51" width="3.77" height="3.77" fill="#fff" stroke="#1e2278" stroke-width="1.0"/>
<rect x="391.21" y="167.01" width="3.77" height="3.77" fill="#fff" stroke="#1e2278" stroke-width="1.0"/>
<rect x="394.21" y="175.71" width="3.77" height="3.77" fill="#fff" stroke="#1e2278" stroke-width="1.0"/>
<rect x="402.31" y="168.11" width="3.77" height="3.77" fill="#fff" stroke="#1e2278" stroke-width="1.0"/>
<rect x="407.81" y="173.41" width="3.77" height="3.77" fill="#fff" stroke="#1e2278" stroke-width="1.0"/>
<rect x="430.01" y="150.11" width="3.77" height="3.77" fill="#fff" stroke="#1e2278" stroke-width="1.0"/>
<rect x="435.81" y="167.01" width="3.77" height="3.77" fill="#fff" stroke="#1e2278" stroke-width="1.0"/>
<rect x="446.61" y="181.31" width="3.77" height="3.77" fill="#fff" stroke="#1e2278" stroke-width="1.0"/>
<rect x="452.41" y="191.21" width="3.77" height="3.77" fill="#fff" stroke="#1e2278" stroke-width="1.0"/>
<rect x="474.01" y="200.21" width="3.77" height="3.77" fill="#fff" stroke="#1e2278" stroke-width="1.0"/>
<rect x="506.91" y="200.21" width="3.77" height="3.77" fill="#fff" stroke="#1e2278" stroke-width="1.0"/>
<circle cx="321.5" cy="241.0" r="1.79" fill="#fff" stroke="#7a1a2a" stroke-width="1.0"/>
<polyline points="40.0,386.0 46.3,337.4 56.8,351.2 84.4,373.4 91.8,374.7 98.6,350.9 206.2,323.5" fill="none" stroke="#dc3658" stroke-width="1.5" stroke-linejoin="round" />
<polygon points="46.3,335.7 48.2,339.1 44.4,339.1" fill="#fff" stroke="#dc3658" stroke-width="1.0"/>
<polygon points="56.8,349.5 58.7,352.9 54.9,352.9" fill="#fff" stroke="#dc3658" stroke-width="1.0"/>
<polygon points="84.4,371.7 86.3,375.1 82.5,375.1" fill="#fff" stroke="#dc3658" stroke-width="1.0"/>
<polygon points="91.8,373.0 93.7,376.4 89.9,376.4" fill="#fff" stroke="#dc3658" stroke-width="1.0"/>
<polygon points="98.6,349.2 100.5,352.6 96.7,352.6" fill="#fff" stroke="#dc3658" stroke-width="1.0"/>
<polygon points="206.2,321.8 208.1,325.2 204.3,325.2" fill="#fff" stroke="#dc3658" stroke-width="1.0"/>
<polyline points="40.0,386.0 46.7,368.6 50.1,365.3 53.9,358.6 57.2,356.5 61.1,360.6 67.9,357.2 74.6,357.9 88.1,346.4 95.2,350.1 106.6,337.0 122.7,320.4 151.2,328.8" fill="none" stroke="#1b5221" stroke-width="1.5" stroke-linejoin="round" />
<polygon points="46.7,366.4 48.9,368.6 46.7,370.8 44.5,368.6" fill="#fff" stroke="#143c16" stroke-width="1.0"/>
<polygon points="53.9,356.4 56.1,358.6 53.9,360.8 51.7,358.6" fill="#fff" stroke="#143c16" stroke-width="1.0"/>
<polygon points="57.2,354.3 59.4,356.5 57.2,358.7 55.0,356.5" fill="#fff" stroke="#143c16" stroke-width="1.0"/>
<polygon points="61.1,358.4 63.3,360.6 61.1,362.8 58.9,360.6" fill="#fff" stroke="#143c16" stroke-width="1.0"/>
<polygon points="67.9,355.0 70.1,357.2 67.9,359.4 65.7,357.2" fill="#fff" stroke="#143c16" stroke-width="1.0"/>
<polygon points="74.6,355.7 76.8,357.9 74.6,360.1 72.4,357.9" fill="#fff" stroke="#143c16" stroke-width="1.0"/>
<polygon points="88.1,344.2 90.3,346.4 88.1,348.6 85.9,346.4" fill="#fff" stroke="#143c16" stroke-width="1.0"/>
<polygon points="95.2,347.9 97.4,350.1 95.2,352.3 93.0,350.1" fill="#fff" stroke="#143c16" stroke-width="1.0"/>
<polygon points="122.7,318.2 124.9,320.4 122.7,322.6 120.5,320.4" fill="#fff" stroke="#143c16" stroke-width="1.0"/>
<polygon points="151.2,326.6 153.4,328.8 151.2,331.0 149.0,328.8" fill="#fff" stroke="#143c16" stroke-width="1.0"/>
<polyline points="40.0,386.0 46.7,330.4 49.8,311.3 53.9,325.3 57.1,340.9 67.9,323.0 87.8,295.1 95.6,338.7 122.7,333.1 140.0,348.5 161.2,336.9 202.3,318.5 223.5,321.5" fill="none" stroke="#262e9c" stroke-width="1.5" stroke-linejoin="round" />
<rect x="44.81" y="328.51" width="3.77" height="3.77" fill="#fff" stroke="#1e2278" stroke-width="1.0"/>
<rect x="47.91" y="309.41" width="3.77" height="3.77" fill="#fff" stroke="#1e2278" stroke-width="1.0"/>
<rect x="52.01" y="323.41" width="3.77" height="3.77" fill="#fff" stroke="#1e2278" stroke-width="1.0"/>
<rect x="55.21" y="339.01" width="3.77" height="3.77" fill="#fff" stroke="#1e2278" stroke-width="1.0"/>
<rect x="66.01" y="321.11" width="3.77" height="3.77" fill="#fff" stroke="#1e2278" stroke-width="1.0"/>
<rect x="85.91" y="293.21" width="3.77" height="3.77" fill="#fff" stroke="#1e2278" stroke-width="1.0"/>
<rect x="93.71" y="336.81" width="3.77" height="3.77" fill="#fff" stroke="#1e2278" stroke-width="1.0"/>
<rect x="120.81" y="331.21" width="3.77" height="3.77" fill="#fff" stroke="#1e2278" stroke-width="1.0"/>
<rect x="138.11" y="346.61" width="3.77" height="3.77" fill="#fff" stroke="#1e2278" stroke-width="1.0"/>
<rect x="159.31" y="335.01" width="3.77" height="3.77" fill="#fff" stroke="#1e2278" stroke-width="1.0"/>
<rect x="200.41" y="316.61" width="3.77" height="3.77" fill="#fff" stroke="#1e2278" stroke-width="1.0"/>
<rect x="221.61" y="319.61" width="3.77" height="3.77" fill="#fff" stroke="#1e2278" stroke-width="1.0"/>
<line x1="40.00" y1="386.00" x2="46.30" y2="337.40" stroke="#7a1a2a" stroke-width="1.6" />
<polyline points="40.0,386.0 47.2,376.0 50.1,365.7 54.2,376.0 57.2,386.1 61.1,386.1" fill="none" stroke="#000" stroke-width="1.4" stroke-linejoin="round" />
<circle cx="40.0" cy="386.0" r="1.79" fill="#fff" stroke="#000" stroke-width="1.0"/>
<circle cx="47.2" cy="376.0" r="1.79" fill="#fff" stroke="#000" stroke-width="1.0"/>
<circle cx="50.1" cy="365.7" r="1.79" fill="#fff" stroke="#000" stroke-width="1.0"/>
<circle cx="54.2" cy="376.0" r="1.79" fill="#fff" stroke="#000" stroke-width="1.0"/>
<circle cx="57.2" cy="386.1" r="1.79" fill="#fff" stroke="#000" stroke-width="1.0"/>
<circle cx="61.1" cy="386.1" r="1.79" fill="#fff" stroke="#000" stroke-width="1.0"/>
<polyline points="326.5,380.2 342.5,380.2 357.7,380.2 373.7,380.2 389.0,380.2 406.0,376.0 421.5,354.4 452.0,324.2 468.5,299.5" fill="none" stroke="#000" stroke-width="2.0" stroke-linejoin="round" stroke-dasharray="1.6 1.4"/>
<polygon points="342.5,377.4 345.0,381.9 340.0,381.9" fill="#fff" stroke="#000" stroke-width="1.2"/>
<polygon points="358.0,377.4 360.5,381.9 355.5,381.9" fill="#fff" stroke="#000" stroke-width="1.2"/>
<polygon points="374.0,377.4 376.5,381.9 371.5,381.9" fill="#fff" stroke="#000" stroke-width="1.2"/>
<polygon points="389.0,377.4 391.5,381.9 386.5,381.9" fill="#fff" stroke="#000" stroke-width="1.2"/>
<polygon points="406.0,374.2 408.5,378.8 403.5,378.8" fill="#fff" stroke="#000" stroke-width="1.2"/>
<polygon points="421.5,352.1 424.0,356.6 419.0,356.6" fill="#fff" stroke="#000" stroke-width="1.2"/>
<polygon points="452.0,321.9 454.5,326.4 449.5,326.4" fill="#fff" stroke="#000" stroke-width="1.2"/>
<polygon points="468.5,297.2 471.0,301.8 466.0,301.8" fill="#fff" stroke="#000" stroke-width="1.2"/>
<polyline points="326.5,380.0 342.5,377.0 357.7,359.4 373.7,356.8 388.5,294.4 405.0,379.6 420.4,379.6 435.8,379.6" fill="none" stroke="#000" stroke-width="2.0" stroke-linejoin="round" />
<circle cx="326.5" cy="380.0" r="2.00" fill="#fff" stroke="#000" stroke-width="1.2"/>
<circle cx="342.5" cy="377.0" r="2.00" fill="#fff" stroke="#000" stroke-width="1.2"/>
<circle cx="357.7" cy="359.4" r="2.00" fill="#fff" stroke="#000" stroke-width="1.2"/>
<circle cx="373.7" cy="356.8" r="2.00" fill="#fff" stroke="#000" stroke-width="1.2"/>
<circle cx="388.5" cy="294.4" r="2.00" fill="#fff" stroke="#000" stroke-width="1.2"/>
<circle cx="405.0" cy="379.6" r="2.00" fill="#fff" stroke="#000" stroke-width="1.2"/>
<circle cx="420.4" cy="379.6" r="2.00" fill="#fff" stroke="#000" stroke-width="1.2"/>
<circle cx="435.8" cy="379.6" r="2.00" fill="#fff" stroke="#000" stroke-width="1.2"/>
</svg>
</body></html>
